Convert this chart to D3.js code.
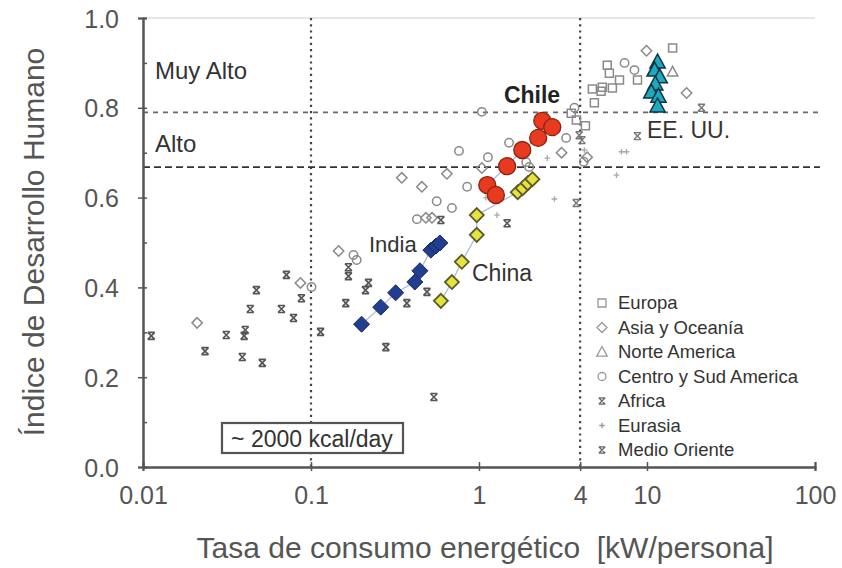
<!DOCTYPE html>
<html><head><meta charset="utf-8">
<script src="https://cdn.jsdelivr.net/npm/d3@7"></script>
<style>body{margin:0;background:#fff}svg{display:block}text{font-family:"Liberation Sans",Arial,sans-serif}</style>
</head><body><svg id="c" width="842" height="568"></svg>
<script>
// ---- data ----
const xTicks = [0.01, 0.1, 1, 4, 10, 100];
const xTickLabels = ["0.01", "0.1", "1", "4", "10", "100"];
const yTicks = [0, 0.2, 0.4, 0.6, 0.8, 1.0];
const yTickLabels = ["0.0", "0.2", "0.4", "0.6", "0.8", "1.0"];
const thresholds = [0.79, 0.668];
const energyLines = [0.1, 4];

const europa = [[14.2,0.933],[5.8,0.895],[5.97,0.877],[5.42,0.846],[4.73,0.842],[5.33,0.837],[6.86,0.862],[8.78,0.862],[4.86,0.811],[3.54,0.788],[3.8,0.773],[6.22,0.844],[4.3,0.76]];
const asia = [[0.021,0.321],[0.0865,0.41],[0.146,0.481],[0.347,0.644],[0.457,0.624],[0.644,0.653],[0.483,0.555],[0.525,0.555],[1.04,0.666],[9.93,0.927],[17.2,0.833],[3.1,0.70],[4.4,0.69]];
const norteAmerica = [[14.2,0.88]];
const centroSud = [[0.1007,0.401],[0.179,0.472],[0.187,0.461],[0.76,0.704],[1.04,0.791],[0.85,0.624],[0.69,0.577],[1.13,0.69],[1.51,0.722],[1.91,0.679],[1.99,0.668],[3.3,0.733],[0.56,0.592],[0.427,0.552],[7.35,0.90],[8.42,0.884],[3.7,0.80],[4.2,0.68]];
const africa = [[0.0112,0.292],[0.0234,0.258],[0.0313,0.294],[0.0406,0.305],[0.040,0.292],[0.0435,0.352],[0.0473,0.394],[0.039,0.245],[0.0513,0.232],[0.0714,0.428],[0.0667,0.352],[0.0787,0.332],[0.0877,0.376],[0.114,0.301],[0.161,0.365],[0.279,0.267],[0.539,0.156],[0.372,0.365],[0.49,0.39],[0.167,0.425],[0.211,0.394],[0.22,0.41],[0.167,0.445],[1.47,0.543],[0.593,0.55]];
const eurasia = [[2.55,0.688],[2.81,0.597],[7.05,0.702],[7.55,0.702],[6.58,0.65],[1.28,0.561],[4.24,0.706],[1.1,0.60]];
const medioOriente = [[3.79,0.588],[3.95,0.739],[8.77,0.737],[21.1,0.80],[4.1,0.728]];

const india = [[0.200,0.318],[0.260,0.356],[0.319,0.388],[0.415,0.412],[0.445,0.437],[0.517,0.483],[0.554,0.492],[0.585,0.499]];
const china = [[0.593,0.370],[0.69,0.412],[0.79,0.457],[0.97,0.517],[0.97,0.561],[1.70,0.612],[1.82,0.621],[1.95,0.632],[2.08,0.641]];
const chile = [[1.12,0.628],[1.26,0.606],[1.47,0.670],[1.81,0.706],[2.25,0.733],[2.38,0.771],[2.73,0.757]];
const eeuu = [[11.56,0.902],[11.1,0.884],[11.9,0.869],[11.2,0.853],[10.6,0.835],[11.7,0.826],[11.56,0.804]];

const legendItems = ["Europa","Asia y Oceanía","Norte America","Centro y Sud America","Africa","Eurasia","Medio Oriente"];

// ---- chart ----
const svg = d3.select("#c");
const x = d3.scaleLog().domain([0.01, 100]).range([143, 815]);
const y = d3.scaleLinear().domain([0, 1]).range([467, 18]);
const grayTxt = "#555";

// frame top
svg.append("line").attr("x1", x(0.01)).attr("x2", x(100)).attr("y1", y(1)).attr("y2", y(1)).attr("stroke", "#ccc").attr("stroke-width", 1);

// reference lines
svg.selectAll(".vl").data(energyLines).join("line")
  .attr("x1", d => x(d)).attr("x2", d => x(d)).attr("y1", y(1)).attr("y2", y(0))
  .attr("stroke", "#444").attr("stroke-width", 2.2).attr("stroke-dasharray", "2.2,4");
svg.append("line").attr("x1", x(0.01)).attr("x2", 820).attr("y1", y(thresholds[0])).attr("y2", y(thresholds[0]))
  .attr("stroke", "#666").attr("stroke-width", 1.8).attr("stroke-dasharray", "5,5");
svg.append("line").attr("x1", x(0.01)).attr("x2", 820).attr("y1", y(thresholds[1])).attr("y2", y(thresholds[1]))
  .attr("stroke", "#333").attr("stroke-width", 1.8).attr("stroke-dasharray", "7,4");

// axes
const yAxis = svg.append("g").attr("transform", `translate(${x(0.01)},0)`)
  .call(d3.axisLeft(y).tickValues(yTicks).tickFormat((d, i) => yTickLabels[i]).tickSize(5).tickPadding(19));
const yMinor = svg.append("g").attr("transform", `translate(${x(0.01)},0)`)
  .call(d3.axisLeft(y).tickValues(d3.range(0, 1.01, 0.1)).tickFormat("").tickSize(-4));
const xAxis = svg.append("g").attr("transform", `translate(0,${y(0)})`)
  .call(d3.axisBottom(x).tickValues(xTicks).tickFormat((d, i) => xTickLabels[i]).tickSize(4).tickPadding(15));
const xUp = svg.append("g").attr("transform", `translate(0,${y(0)})`)
  .call(d3.axisBottom(x).tickValues(xTicks).tickFormat("").tickSize(-5));
[yAxis, yMinor, xAxis, xUp].forEach(g => {
  g.select(".domain").attr("stroke", "#555").attr("stroke-width", 2);
  g.selectAll(".tick line").attr("stroke", "#555").attr("stroke-width", 1.5);
  g.selectAll(".tick text").attr("fill", grayTxt).attr("font-size", 25).attr("font-family", "Liberation Sans, Arial, sans-serif");
});
yAxis.selectAll(".tick text").attr("dy", "0.36em");

// axis titles
svg.append("text").attr("x", 485).attr("y", 558).attr("text-anchor", "middle").attr("fill", grayTxt)
  .attr("font-size", 30).text("Tasa de consumo energético\u00a0 [kW/persona]");
svg.append("text").attr("transform", `translate(44,242) rotate(-90)`).attr("text-anchor", "middle").attr("fill", grayTxt)
  .attr("font-size", 30).text("Índice de Desarrollo Humano");

// region labels
svg.append("text").attr("x", 155).attr("y", 79).attr("fill", "#333").attr("font-size", 24).text("Muy Alto");
svg.append("text").attr("x", 155).attr("y", 152).attr("fill", "#333").attr("font-size", 24).text("Alto");

// kcal box
svg.append("rect").attr("x", 222).attr("y", 423).attr("width", 181).attr("height", 30).attr("fill", "#fff").attr("stroke", "#555").attr("stroke-width", 2.2);
svg.append("text").attr("x", 312).attr("y", 447).attr("text-anchor", "middle").attr("fill", "#333").attr("font-size", 23).text("~ 2000 kcal/day");

// symbol shapes
const sq = r => `M${-r},${-r}H${r}V${r}H${-r}Z`;
const dia = r => `M0,${-r}L${r},0L0,${r}L${-r},0Z`;
const tri = r => `M0,${-r}L${r*0.95},${r*0.75}L${-r*0.95},${r*0.75}Z`;
const circ = r => `M${r},0A${r},${r} 0 1,1 ${-r},0A${r},${r} 0 1,1 ${r},0Z`;
const xm = r => `M${-r},${-r}L${r},${r}M${r},${-r}L${-r},${r}M${-r},${-r}H${r}M${-r},${r}H${r}`;
const plus = r => `M${-r},0H${r}M0,${-r}V${r}`;

const groups = [
  {data: europa, path: sq(4), stroke: "#8a8a8a", w: 1.5},
  {data: asia, path: dia(5.2), stroke: "#8a8a8a", w: 1.5},
  {data: norteAmerica, path: tri(5.5), stroke: "#8a8a8a", w: 1.5},
  {data: centroSud, path: circ(4.2), stroke: "#8a8a8a", w: 1.5},
  {data: africa, path: xm(3.5), stroke: "#555", w: 1.6},
  {data: eurasia, path: plus(2.8), stroke: "#aaa", w: 1.4},
  {data: medioOriente, path: xm(3.5), stroke: "#777", w: 1.4}
];
groups.forEach(g => {
  svg.append("g").selectAll("path").data(g.data).join("path")
    .attr("transform", d => `translate(${x(d[0])},${y(d[1])})`)
    .attr("d", g.path).attr("fill", "none").attr("stroke", g.stroke).attr("stroke-width", g.w);
});

// highlighted countries
const line = d3.line().x(d => x(d[0])).y(d => y(d[1]));
const sortY = a => a.slice().sort((p, q) => p[1] - q[1]);
[india, china, chile, eeuu].forEach(s => {
  svg.append("path").attr("d", line(sortY(s))).attr("fill", "none").attr("stroke", "#a9b9d6").attr("stroke-width", 1.2);
});
svg.append("g").selectAll("path").data(india).join("path")
  .attr("transform", d => `translate(${x(d[0])},${y(d[1])})`).attr("d", dia(8))
  .attr("fill", "#223f8f").attr("stroke", "#16285e").attr("stroke-width", 1);
svg.append("g").selectAll("path").data(china).join("path")
  .attr("transform", d => `translate(${x(d[0])},${y(d[1])})`).attr("d", dia(7))
  .attr("fill", "#e6e23e").attr("stroke", "#5a5a2a").attr("stroke-width", 1.8);
svg.append("g").selectAll("path").data(chile).join("path")
  .attr("transform", d => `translate(${x(d[0])},${y(d[1])})`).attr("d", circ(8.5))
  .attr("fill", "#e83a1e").attr("stroke", "#8a2212").attr("stroke-width", 1.3);
svg.append("g").selectAll("path").data(eeuu).join("path")
  .attr("transform", d => `translate(${x(d[0])},${y(d[1])})`).attr("d", tri(8))
  .attr("fill", "#1fa8bf").attr("stroke", "#0d3540").attr("stroke-width", 1.5);

// country labels
svg.append("text").attr("x", 532).attr("y", 103).attr("text-anchor", "middle").attr("font-weight", "bold").attr("fill", "#222").attr("font-size", 23).text("Chile");
svg.append("text").attr("x", 369).attr("y", 252).attr("fill", "#333").attr("font-size", 22).text("India");
svg.append("text").attr("x", 472).attr("y", 281).attr("fill", "#333").attr("font-size", 23).text("China");
svg.append("text").attr("x", 647).attr("y", 138).attr("fill", "#333").attr("font-size", 23).text("EE. UU.");

// legend
const legShapes = [sq(4), dia(5), tri(5.5), circ(4), xm(3.2), plus(2.8), xm(3.2)];
const leg = svg.append("g");
legendItems.forEach((t, i) => {
  const yy = 303 + i * 24.5;
  leg.append("path").attr("transform", `translate(602,${yy})`).attr("d", legShapes[i])
    .attr("fill", "none").attr("stroke", i === 4 || i === 6 ? "#666" : "#999").attr("stroke-width", 1.3);
  leg.append("text").attr("x", 618).attr("y", yy + 6).attr("fill", "#333").attr("font-size", 18.5).text(t);
});
</script></body></html>
